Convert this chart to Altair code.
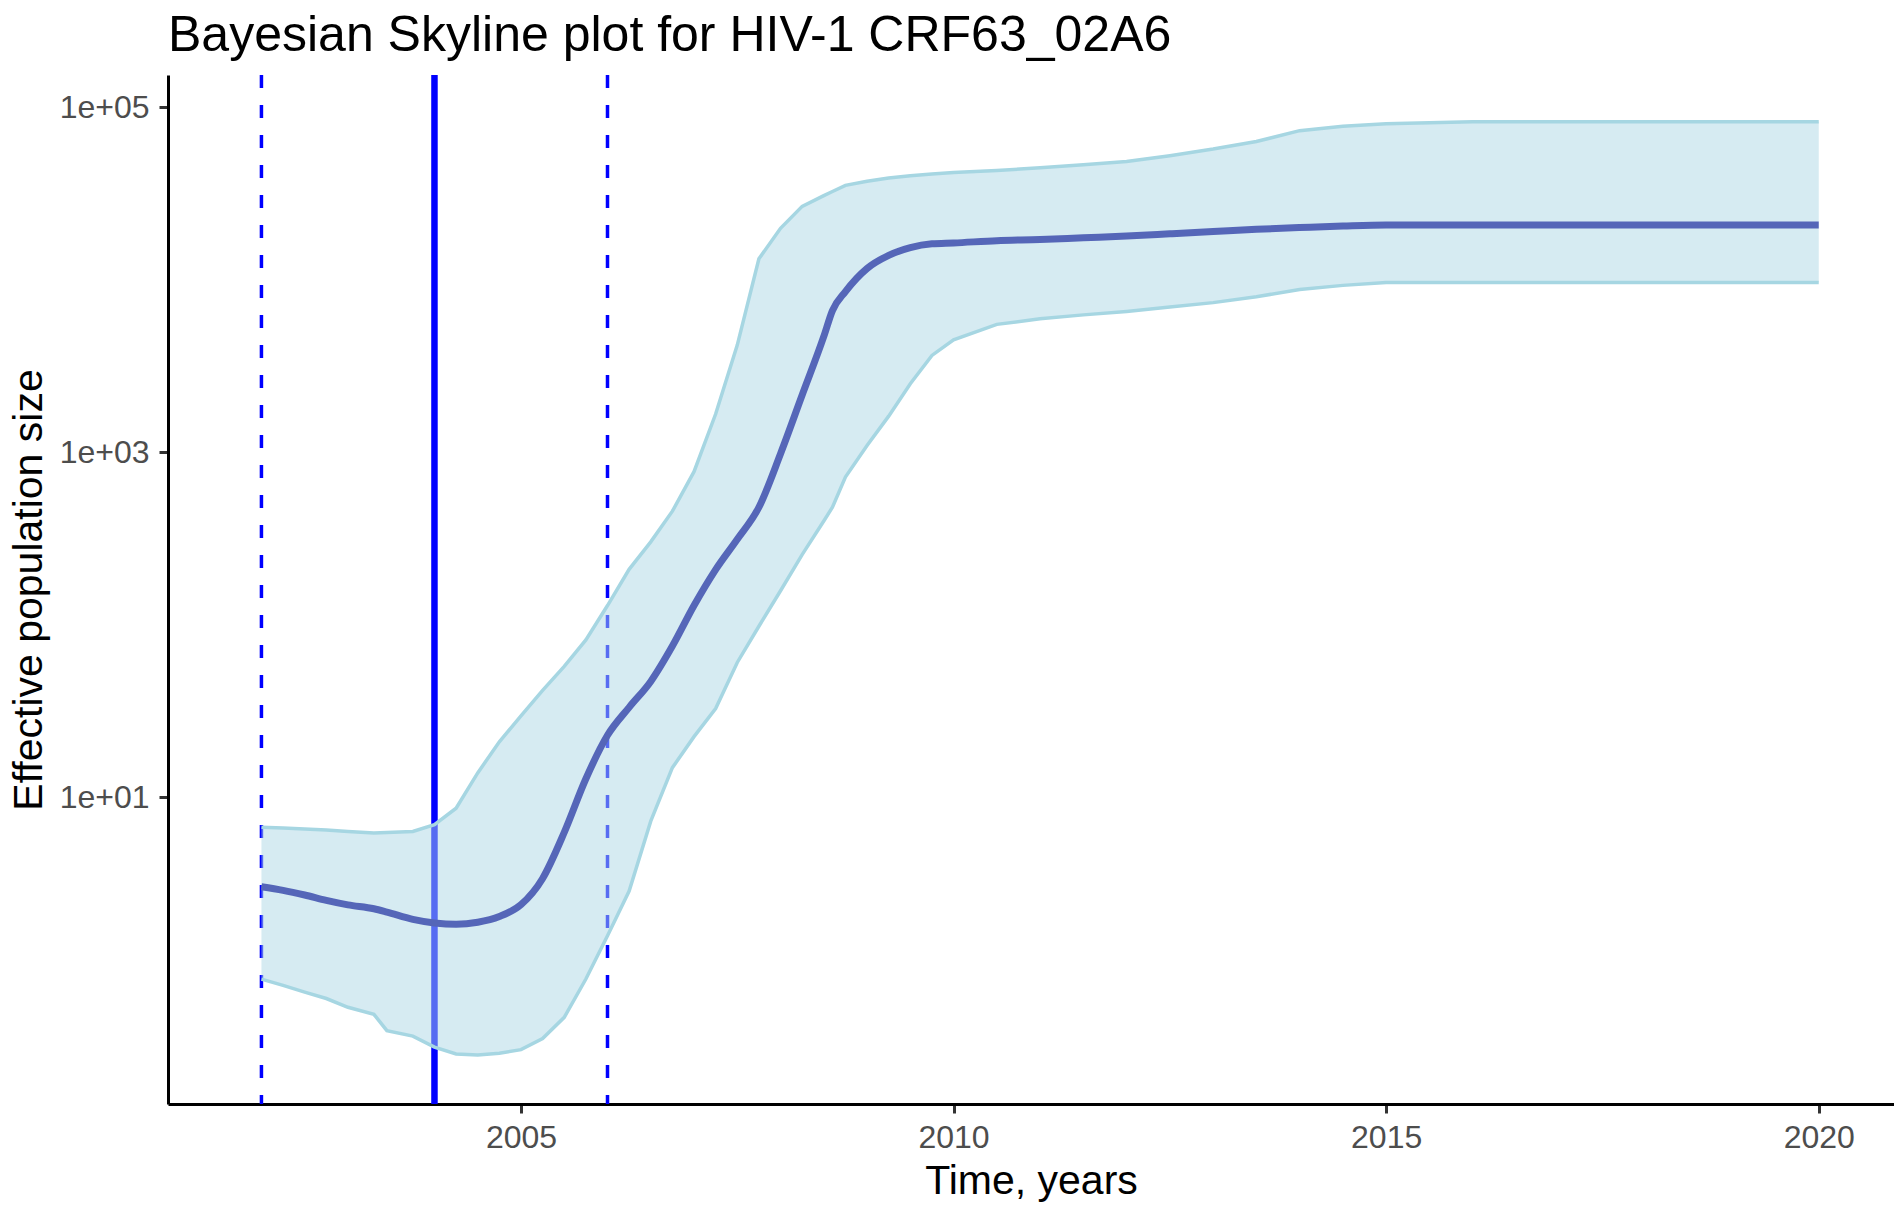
import altair as alt
import pandas as pd

# ---- data ----
times = [2002.0, 2002.25, 2002.5, 2002.75, 2003.0, 2003.3, 2003.45, 2003.75, 2004.0, 2004.25,
         2004.5, 2004.75, 2005.0, 2005.25, 2005.5, 2005.75, 2006.0, 2006.25, 2006.5, 2006.75,
         2007.0, 2007.25, 2007.5, 2007.75, 2008.0, 2008.25, 2008.5, 2008.6, 2008.75, 2009.0,
         2009.25, 2009.5, 2009.75, 2010.0, 2010.5, 2011.0, 2011.5, 2012.0, 2012.5, 2013.0,
         2013.5, 2014.0, 2014.5, 2015.0, 2016.0, 2017.0, 2018.0, 2019.0, 2020.0]

median = [3.02, 2.877, 2.704, 2.518, 2.371, 2.249, 2.153, 1.954, 1.862, 1.828,
          1.879, 2.028, 2.377, 3.373, 6.237, 12.76, 22.80, 33.11, 46.77, 74.99,
          128.8, 208.0, 311.9, 478.6, 977.2, 2138, 4677, 6607, 8511, 11588,
          13804, 15311, 16106, 16293, 16788, 17061, 17458, 17865, 18408, 18967,
          19543, 19999, 20417, 20701, 20701, 20701, 20701, 20701, 20701]

upper = [6.668, 6.607, 6.531, 6.442, 6.310, 6.194, 6.223, 6.310, 6.918, 8.610,
         13.80, 20.89, 29.51, 41.50, 57.15, 81.47, 128.8, 208.9, 301.3, 453.9,
         769.1, 1660, 4169, 13183, 19815, 26546, 30620, 32359, 35156, 37154,
         38726, 39994, 40926, 41687, 42855, 44463, 46238, 48306, 52240, 57016,
         63096, 72946, 77268, 79983, 82224, 82224, 82224, 82224, 82224]

lower = [0.879, 0.809, 0.740, 0.679, 0.604, 0.550, 0.442, 0.411, 0.355, 0.324,
         0.320, 0.327, 0.343, 0.398, 0.528, 0.881, 1.570, 2.851, 7.244, 14.79,
         22.39, 32.58, 60.26, 97.72, 157.0, 254.1, 398.1, 478.6, 716.1, 1091,
         1614, 2489, 3631, 4467, 5495, 5916, 6237, 6531, 6918, 7345,
         7943, 8750, 9247, 9594, 9594, 9594, 9594, 9594, 9594]

dashed_years = [2002, 2006]
solid_years = [2004]

x_ticks = [2005, 2010, 2015, 2020]
y_ticks = [10, 1000, 100000]
y_tick_labels = ["1e+01", "1e+03", "1e+05"]

title_text = "Bayesian Skyline plot for HIV-1 CRF63_02A6"
x_title = "Time, years"
y_title = "Effective population size"

# ---- chart ----
df = pd.DataFrame({"t": times, "med": median, "up": upper, "lo": lower})
df_dash = pd.DataFrame({"t": dashed_years})
df_solid = pd.DataFrame({"t": solid_years})

xscale = alt.Scale(domain=[2000.92, 2020.87], nice=False, zero=False)
yscale = alt.Scale(type="log", domain=[0.1661, 153300], nice=False)

label_expr = " : ".join(
    f"datum.value == {v} ? '{l}'" for v, l in zip(y_ticks, y_tick_labels)
) + " : ''"

x_axis = alt.Axis(values=x_ticks, format="d", title=x_title, grid=False,
                  labelPadding=9, titlePadding=8)
y_axis = alt.Axis(values=y_ticks, labelExpr=label_expr, title=y_title, grid=False,
                  labelPadding=10, titlePadding=9)

dash_rules = alt.Chart(df_dash).mark_rule(
    color="#0000FF", strokeWidth=3.5, strokeDash=[13, 17]
).encode(x=alt.X("t:Q", scale=xscale, axis=x_axis))

solid_rule = alt.Chart(df_solid).mark_rule(
    color="#0000FF", strokeWidth=6.5
).encode(x=alt.X("t:Q", scale=xscale))

band = alt.Chart(df).mark_area(color="#ADD8E6", opacity=0.5).encode(
    x=alt.X("t:Q", scale=xscale),
    y=alt.Y("lo:Q", scale=yscale, axis=y_axis),
    y2="up:Q",
)

up_line = alt.Chart(df).mark_line(color="#A6D6E2", strokeWidth=3.5).encode(
    x=alt.X("t:Q", scale=xscale), y=alt.Y("up:Q", scale=yscale)
)
lo_line = alt.Chart(df).mark_line(color="#A6D6E2", strokeWidth=3.5).encode(
    x=alt.X("t:Q", scale=xscale), y=alt.Y("lo:Q", scale=yscale)
)
med_line = alt.Chart(df).mark_line(color="#5566B8", strokeWidth=7,
                                   interpolate="monotone").encode(
    x=alt.X("t:Q", scale=xscale), y=alt.Y("med:Q", scale=yscale)
)

chart = alt.layer(dash_rules, solid_rule, band, up_line, lo_line, med_line).properties(
    width=1726,
    height=1029,
    autosize=alt.AutoSizeParams(type="none"),
    padding={"left": 160, "top": 67, "right": 0, "bottom": 100},
    title=alt.TitleParams(title_text, anchor="start", frame="group", fontSize=50,
                          font="Liberation Sans", fontWeight="normal", color="#000000",
                          baseline="alphabetic", offset=0, dy=29),
).configure_view(stroke=None).configure_axis(
    domainColor="#000000", domainWidth=3, tickColor="#333333", tickWidth=3, tickSize=9,
    labelFont="Liberation Sans", labelFontSize=32, labelColor="#4D4D4D",
    titleFont="Liberation Sans", titleFontSize=41, titleColor="#000000",
    titleFontWeight="normal",
)

chart.save("out.html", embed_options={"renderer": "svg", "actions": False})
